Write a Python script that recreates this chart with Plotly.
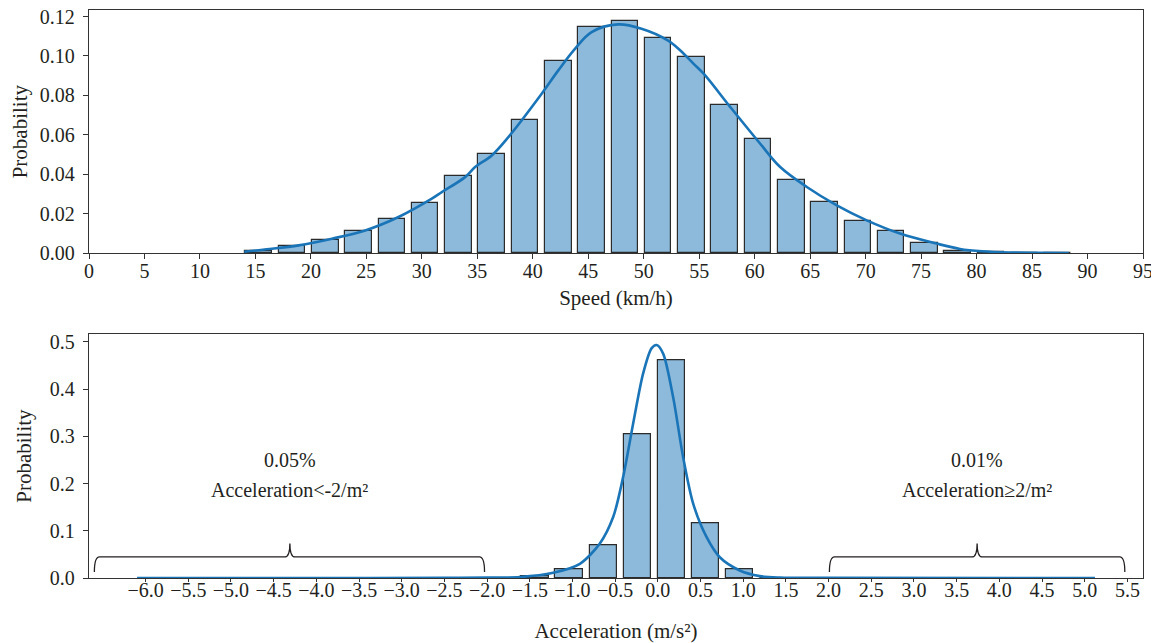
import plotly.graph_objects as go

# ---------------- data ----------------
speed_bins = [15.3, 18.3, 21.3, 24.3, 27.3, 30.3, 33.3, 36.3, 39.3, 42.3, 45.3, 48.3, 51.3,
              54.3, 57.3, 60.3, 63.3, 66.3, 69.3, 72.3, 75.3, 78.3, 81.3, 84.3, 87.3]
speed_prob = [0.0010, 0.0035, 0.0066, 0.0111, 0.0176, 0.0256, 0.0391, 0.0501, 0.0677, 0.0977,
              0.1149, 0.1175, 0.1090, 0.0996, 0.0749, 0.0581, 0.0373, 0.0262, 0.0166, 0.0113,
              0.0052, 0.0014, 0.0004, 0.0002, 0.0001]
speed_kde_x = [14.0, 16.0, 18.9, 21.9, 24.9, 27.9, 30.9, 31.8, 33.9, 34.8, 36.3, 37.8, 40.8,
               42.3, 43.8, 45.3, 47.7, 49.8, 52.2, 53.3, 54.5, 55.4, 57.8, 60.5, 62.3, 64.7,
               67.4, 70.1, 73.1, 76.4, 78.5, 80.5, 83.0, 85.5, 88.3]
speed_kde_y = [0.0008, 0.0020, 0.0040, 0.0074, 0.0116, 0.0184, 0.0277, 0.0310, 0.0386, 0.0437,
               0.0496, 0.0589, 0.0809, 0.0927, 0.1036, 0.1121, 0.1160, 0.1138, 0.1078, 0.1028,
               0.0960, 0.0910, 0.0741, 0.0555, 0.0437, 0.0336, 0.0243, 0.0167, 0.0100, 0.0049,
               0.0022, 0.0010, 0.0004, 0.0002, 0.0001]
speed_ticks = [0, 5, 10, 15, 20, 25, 30, 35, 40, 45, 50, 55, 60, 65, 70, 75, 80, 85, 90, 95]

acc_bins = [-5.84, -5.44, -5.04, -4.64, -4.24, -3.84, -3.44, -3.04, -2.64, -2.24, -1.84,
            -1.44, -1.04, -0.64, -0.24, 0.16, 0.56, 0.96, 1.36, 1.76, 2.16, 2.56, 2.96,
            3.36, 3.76, 4.16, 4.56, 4.96]
acc_prob = [0.0003, 0.0003, 0.0003, 0.0003, 0.0003, 0.0003, 0.0003, 0.0003, 0.0003, 0.0003, 0.0005,
            0.004, 0.018, 0.070, 0.304, 0.460, 0.117, 0.019, 0.0005, 0.0003, 0.0003, 0.0003, 0.0003,
            0.0003, 0.0003, 0.0003, 0.0003, 0.0003]
acc_kde_x = [-6.10, -4.0, -2.5, -2.0, -1.616, -1.226, -0.913, -0.679, -0.523, -0.406, -0.289,
             -0.172, -0.074, -0.015, 0.062, 0.179, 0.296, 0.413, 0.570, 0.726, 0.960, 1.194,
             1.428, 2.0, 5.12]
acc_kde_y = [0.0, 0.0, 0.0003, 0.0008, 0.002, 0.011, 0.030, 0.073, 0.129, 0.214, 0.327,
             0.433, 0.486, 0.493, 0.475, 0.383, 0.256, 0.158, 0.087, 0.044, 0.016, 0.004,
             0.001, 0.0002, 0.0]
acc_ticks = [-6.0, -5.5, -5.0, -4.5, -4.0, -3.5, -3.0, -2.5, -2.0, -1.5, -1.0, -0.5, 0.0,
             0.5, 1.0, 1.5, 2.0, 2.5, 3.0, 3.5, 4.0, 4.5, 5.0, 5.5]

# tail annotations: (start, end, tip position, percentage, label)
tail_starts = [-6.60, 2.01]
tail_ends = [-2.03, 5.47]
tail_tips = [-4.31, 3.74]
tail_pct = ["0.05%", "0.01%"]
tail_text = ["Acceleration&lt;-2/m²", "Acceleration≥2/m²"]

# ---------------- style ----------------
FONT = "Liberation Serif"
BAR_FILL = "#8DB9DA"
BAR_LINE = "#2b2b2b"
CURVE = "#1a75b8"
TXT = "#231f20"

fig = go.Figure()

fig.add_trace(go.Bar(x=speed_bins, y=speed_prob, width=2.4, marker=dict(color=BAR_FILL,
                     line=dict(color=BAR_LINE, width=1.2)), xaxis="x", yaxis="y", showlegend=False))
fig.add_trace(go.Scatter(x=speed_kde_x, y=speed_kde_y, mode="lines", line=dict(color=CURVE, width=2.6,
                         shape="spline", smoothing=1.0), xaxis="x", yaxis="y", showlegend=False))

fig.add_trace(go.Bar(x=acc_bins, y=acc_prob, width=0.32, marker=dict(color=BAR_FILL,
                     line=dict(color=BAR_LINE, width=1.2)), xaxis="x2", yaxis="y2", showlegend=False))
fig.add_trace(go.Scatter(x=acc_kde_x, y=acc_kde_y, mode="lines", line=dict(color=CURVE, width=2.6,
                         shape="spline", smoothing=0.8), xaxis="x2", yaxis="y2", showlegend=False))

# braces
brace_h, brace_tip, brace_end, dx = 0.0445, 0.073, 0.0127, 0.06
shapes = []
annotations = []
for s, e, m, p, t in zip(tail_starts, tail_ends, tail_tips, tail_pct, tail_text):
    path = (f"M {s},{brace_end} Q {s},{brace_h} {s+dx},{brace_h} "
            f"L {m-dx},{brace_h} Q {m},{brace_h} {m},{brace_tip} "
            f"Q {m},{brace_h} {m+dx},{brace_h} "
            f"L {e-dx},{brace_h} Q {e},{brace_h} {e},{brace_end}")
    shapes.append(dict(type="path", path=path, xref="x2", yref="y2",
                       line=dict(color=TXT, width=1.3)))
    annotations.append(dict(x=m, y=0.249, xref="x2", yref="y2", text=p, showarrow=False,
                            font=dict(family=FONT, size=20, color=TXT)))
    annotations.append(dict(x=m, y=0.186, xref="x2", yref="y2", text=t, showarrow=False,
                            font=dict(family=FONT, size=20, color=TXT)))

axis_common = dict(showline=True, linecolor="#333333", linewidth=1.3, mirror=True,
                   ticks="outside", tickwidth=1.2, tickcolor="#333333",
                   showgrid=False, zeroline=False, automargin=False,
                   ticklabeloverflow="allow",
                   tickfont=dict(family=FONT, size=20, color=TXT))
title_font = dict(family=FONT, size=21, color=TXT)

# page body adds an 8px offset; figure is sized to fill the remaining viewport
fig.update_layout(
    width=1151, height=635,
    margin=dict(l=81, r=16, t=2, b=65, autoexpand=False),
    paper_bgcolor="white", plot_bgcolor="white",
    bargap=0,
    font=dict(family=FONT, size=20, color=TXT),
    xaxis=dict(domain=[0, 1], anchor="y", range=[0, 95], tickvals=speed_ticks, ticklen=5,
               ticklabelstandoff=-5,
               title=dict(text="Speed (km/h)", font=title_font, standoff=8),
               **axis_common),
    yaxis=dict(domain=[0.5717, 1], anchor="x", range=[0, 0.1233], ticklen=5,
               tickvals=[0, 0.02, 0.04, 0.06, 0.08, 0.10, 0.12], tickformat=".2f",
               ticklabelstandoff=4,
               title=dict(text="Probability", font=title_font, standoff=12),
               **axis_common),
    xaxis2=dict(domain=[0, 1], anchor="y2", range=[-6.663, 5.683], tickvals=acc_ticks, tickformat=".1f",
                ticklen=3, ticklabelstandoff=-9,
                title=dict(text="Acceleration (m/s²)", font=title_font, standoff=23),
                **axis_common),
    yaxis2=dict(domain=[0, 0.4292], anchor="x2", range=[0, 0.516], ticklen=5,
                tickvals=[0, 0.1, 0.2, 0.3, 0.4, 0.5], tickformat=".1f",
                ticklabelstandoff=4,
                title=dict(text="Probability", font=title_font, standoff=12),
                **axis_common),
    shapes=shapes,
    annotations=annotations,
)

fig.write_html("out.html")
